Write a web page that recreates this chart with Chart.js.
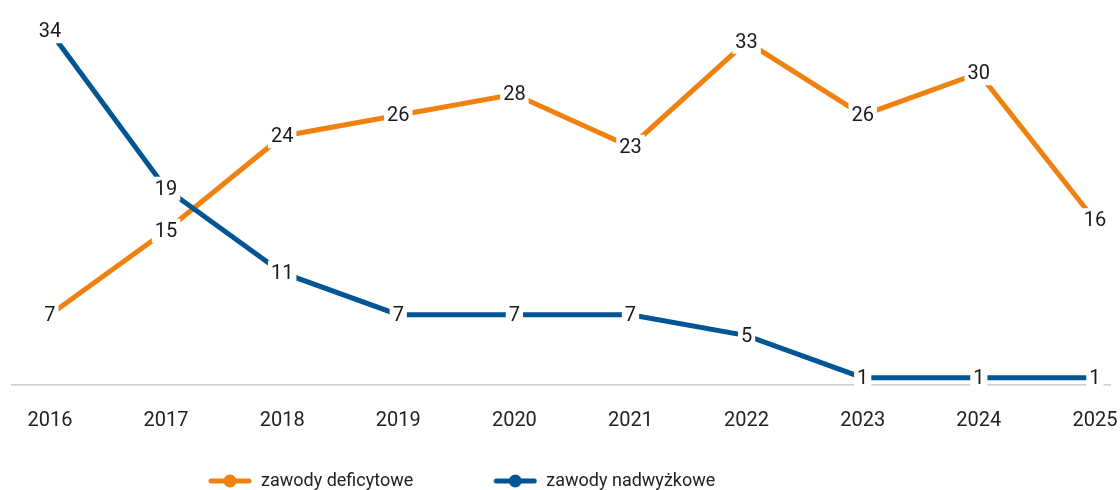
<!DOCTYPE html>
<html>
<head>
<meta charset="utf-8">
<script src="https://cdn.jsdelivr.net/npm/chart.js@4.4.1/dist/chart.umd.min.js"></script>
<style>
  html, body { margin: 0; padding: 0; background: #ffffff; overflow: hidden; }
  #wrap { position: relative; width: 1120px; height: 500px; }
</style>
</head>
<body>
<div id="wrap"><canvas id="c"></canvas></div>
<script>
const categories = ['2016', '2017', '2018', '2019', '2020', '2021', '2022', '2023', '2024', '2025'];
const seriesNames = ['zawody deficytowe', 'zawody nadwyżkowe'];
const deficitValues = [7, 15, 24, 26, 28, 23, 33, 26, 30, 16];
const surplusValues = [34, 19, 11, 7, 7, 7, 5, 1, 1, 1];

const ORANGE = '#F0810F';
const BLUE = '#005595';

function legendSymbol(color) {
  const c = document.createElement('canvas');
  c.width = 114; c.height = 16;
  const g = c.getContext('2d');
  g.strokeStyle = color; g.lineWidth = 5; g.lineCap = 'round';
  g.beginPath(); g.moveTo(73, 8); g.lineTo(111, 8); g.stroke();
  g.fillStyle = color;
  g.beginPath(); g.arc(92, 8, 6.5, 0, Math.PI * 2); g.fill();
  return c;
}

const toPoints = vals => vals.map((v, i) => ({ x: Number(categories[i]), y: v }));

const valueLabels = {
  id: 'valueLabels',
  afterDatasetsDraw(chart) {
    const ctx = chart.ctx;
    ctx.save();
    ctx.font = '20px Roboto';
    ctx.textAlign = 'center';
    ctx.textBaseline = 'middle';
    chart.data.datasets.forEach((ds, di) => {
      const meta = chart.getDatasetMeta(di);
      meta.data.forEach((pt, j) => {
        const txt = String(ds.data[j].y);
        const w = ctx.measureText(txt).width + 6;
        const h = 24;
        ctx.fillStyle = '#ffffff';
        ctx.fillRect(pt.x - w / 2, pt.y - h / 2, w, h);
        ctx.fillStyle = '#1a1a1a';
        ctx.fillText(txt, pt.x, pt.y + 1);
      });
    });
    ctx.restore();
  }
};

const legendShift = {
  id: 'legendShift',
  afterLayout(chart) {
    if (chart.legend) { chart.legend.left = 128; }
  }
};

new Chart(document.getElementById('c'), {
  type: 'line',
  data: {
    datasets: [
      {
        label: seriesNames[0],
        data: toPoints(deficitValues),
        borderColor: ORANGE,
        backgroundColor: ORANGE,
        borderWidth: 5,
        pointRadius: 0,
        pointHoverRadius: 0,
        pointStyle: legendSymbol(ORANGE),
        tension: 0,
        borderJoinStyle: 'miter',
        borderCapStyle: 'butt',
        clip: false,
        order: 1
      },
      {
        label: seriesNames[1],
        data: toPoints(surplusValues),
        borderColor: BLUE,
        backgroundColor: BLUE,
        borderWidth: 5,
        pointRadius: 0,
        pointHoverRadius: 0,
        pointStyle: legendSymbol(BLUE),
        tension: 0,
        borderJoinStyle: 'miter',
        borderCapStyle: 'butt',
        clip: false,
        order: 0
      }
    ]
  },
  options: {
    responsive: true,
    maintainAspectRatio: false,
    animation: false,
    events: [],
    layout: { padding: { top: 26, left: 12, right: 10, bottom: 0 } },
    scales: {
      x: {
        type: 'linear',
        min: 2015.673,
        max: 2025.13,
        grid: { display: false, drawTicks: false },
        border: { display: true, color: '#cccccc', width: 1.5 },
        ticks: {
          stepSize: 1,
          includeBounds: false,
          autoSkip: false,
          maxRotation: 0,
          padding: 24,
          color: '#222222',
          font: { family: 'Roboto', size: 20 },
          callback: v => String(v)
        },
        afterFit: s => { s.height = 77; s.paddingLeft = 0; s.paddingRight = 0; }
      },
      y: {
        display: false,
        min: 0.3,
        max: 34.5
      }
    },
    plugins: {
      legend: {
        position: 'bottom',
        align: 'start',
        labels: {
          usePointStyle: true,
          pointStyleWidth: 114,
          padding: 10,
          color: '#222222',
          font: { family: 'Roboto', size: 18 },
          sort: (a, b) => a.datasetIndex - b.datasetIndex
        }
      },
      tooltip: { enabled: false }
    }
  },
  plugins: [valueLabels, legendShift]
});
</script>
</body>
</html>
